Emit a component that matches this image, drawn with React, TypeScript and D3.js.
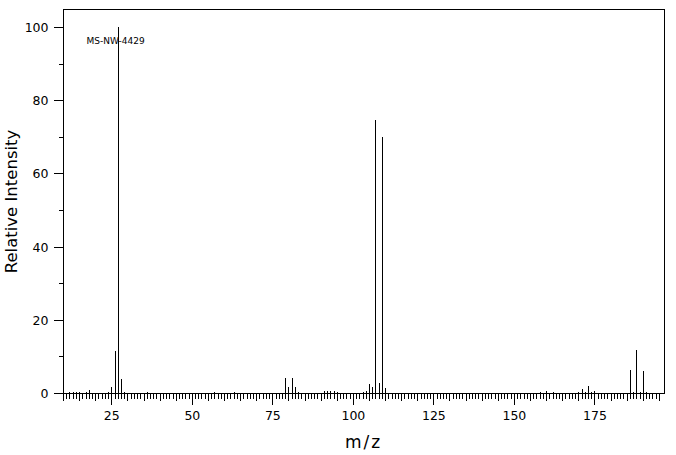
import React from "react";
import * as d3 from "d3";

// m/z values and relative intensities
const mzValues = [12, 13, 14, 15, 17, 18, 24, 25, 26, 27, 28, 29, 36, 57, 63, 79, 80, 81, 82, 83, 91, 92, 93, 94, 95, 103, 104, 105, 106, 107, 108, 109, 110, 158, 160, 162, 170, 171, 172, 173, 174, 175, 186, 187, 188, 189, 190, 191];
const intensities = [0.4, 0.4, 0.4, 0.4, 0.4, 0.9, 0.4, 1.8, 11.6, 100, 3.9, 0.4, 0.3, 0.3, 0.3, 4.2, 1.7, 4.2, 1.7, 0.4, 0.6, 0.6, 0.6, 0.7, 0.4, 0.3, 0.8, 2.5, 1.9, 74.8, 2.8, 70.1, 1.6, 0.5, 0.8, 0.4, 0.4, 1.2, 0.4, 2.0, 0.4, 0.8, 6.3, 0.4, 12.0, 0.5, 6.1, 0.4];
const xTickLabels = [25, 50, 75, 100, 125, 150, 175];
const yTickLabels = [0, 20, 40, 60, 80, 100];
const yMinorTicks = [10, 30, 50, 70, 90];
const xTitle = "m/z";
const yTitle = "Relative Intensity";
const sampleLabel = "MS-NW-4429";

export default function App() {
  const W = 676;
  const H = 455;
  const left = 63.5, right = 664.5, top = 9.5, bottom = 393.5;
  const x = d3.scaleLinear().domain([10, 196.6]).range([left, right]);
  const y = d3.scaleLinear().domain([0, 104.9]).range([bottom, top]);
  const px = (v: number) => Math.round(x(v) - 0.5) + 0.5;
  const py = (v: number) => Math.round(y(v) - 0.5) + 0.5;

  const minorX = d3.range(10, 196, 1);
  const font = "'DejaVu Sans', sans-serif";

  return (
    <svg
      width={W}
      height={H}
      style={{ position: "absolute", left: 0, top: 0, background: "#fff" }}
      shapeRendering="crispEdges"
    >
      <rect x={0} y={0} width={W} height={H} fill="#fff" />
      {/* frame */}
      <rect x={left} y={top} width={right - left} height={bottom - top} fill="none" stroke="#000" strokeWidth={1} />

      {/* x ticks */}
      {minorX.map((m) => {
        const len = m % 25 === 0 ? 11 : m % 5 === 0 ? 7 : 5;
        return <line key={"xt" + m} x1={px(m)} x2={px(m)} y1={bottom} y2={bottom + len} stroke="#000" />;
      })}
      {xTickLabels.map((m) => (
        <text key={"xl" + m} x={x(m)} y={419.5} textAnchor="middle" fontFamily={font} fontSize={12.5} fill="#000">
          {m}
        </text>
      ))}

      {/* y ticks */}
      {yTickLabels.map((v) => (
        <g key={"yt" + v}>
          <line x1={left - 10} x2={left} y1={py(v)} y2={py(v)} stroke="#000" />
          <text x={48.5} y={py(v) + 4.5} textAnchor="end" fontFamily={font} fontSize={12.5} fill="#000">
            {v}
          </text>
        </g>
      ))}
      {yMinorTicks.map((v) => (
        <line key={"ym" + v} x1={left - 5} x2={left} y1={py(v)} y2={py(v)} stroke="#000" />
      ))}

      {/* peaks */}
      {mzValues.map((m, i) => (
        <line key={"p" + m} x1={px(m)} x2={px(m)} y1={bottom} y2={y(intensities[i])} stroke="#000" strokeWidth={1} />
      ))}

      {/* labels */}
      <text x={86.5} y={44.3} fontFamily={font} fontSize={9} fill="#000">
        {sampleLabel}
      </text>
      <text x={363.5} y={447.5} textAnchor="middle" fontFamily={font} fontSize={17} letterSpacing={2} fill="#000">
        {xTitle}
      </text>
      <text
        transform={`translate(16.5, ${(top + bottom) / 2}) rotate(-90)`}
        textAnchor="middle"
        fontFamily={font}
        fontSize={16.5}
        fill="#000"
      >
        {yTitle}
      </text>
    </svg>
  );
}
